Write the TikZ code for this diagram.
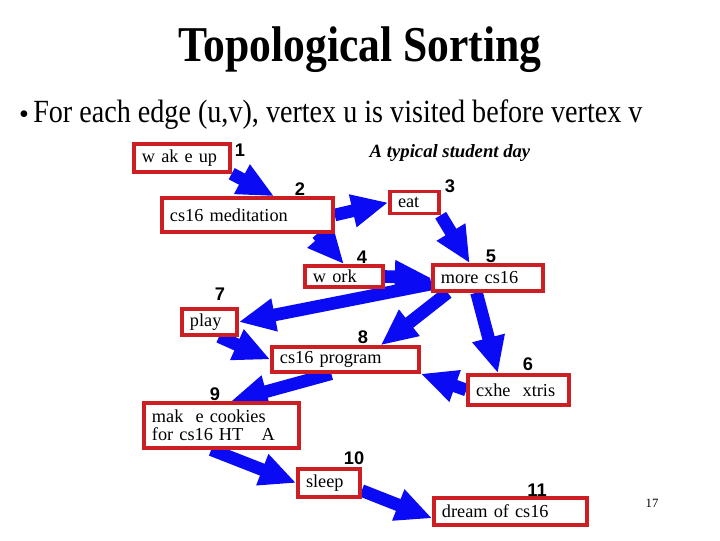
\documentclass[tikz,border=0pt]{standalone}
\usepackage{fontspec}
\setmainfont{Liberation Serif}
\newfontfamily\numfont{Liberation Sans}
\usetikzlibrary{arrows.meta,backgrounds}
\definecolor{boxred}{RGB}{205,30,35}
\definecolor{flowblue}{RGB}{10,10,245}

\begin{document}
\begin{tikzpicture}[
    x=0.025cm, y=-0.025cm,
    box/.style={rectangle, draw=boxred, line width=2.4pt, fill=white, align=left, inner xsep=0.2cm, inner ysep=1pt, minimum height=0.65cm, font=\fontsize{13}{13}\selectfont},
    num/.style={inner sep=0pt, font=\numfont\bfseries\fontsize{13}{13}\selectfont},
    flow/.style={draw=flowblue, line width=9pt, -{Triangle[length=26pt, width=22pt]}}
]
\useasboundingbox (0,0) rectangle (720,540);

% Heading
\node (title) at (360,50) {\fontsize{31}{31}\selectfont\bfseries\scalebox{1}[1.15]{Topological Sorting}};
\node (dot) at (24,117) {\fontsize{20}{20}\selectfont\textbullet};
\node[anchor=base west, inner sep=0pt] (rule) at (33,122) {\fontsize{20}{20}\selectfont\scalebox{1}[1.15]{For each edge (u,v), vertex u is visited before vertex v}};
\node (day) at (450,153) {\fontsize{13.3}{14}\selectfont\bfseries\itshape A typical student day};
\node (page) at (652,503) {\fontsize{9}{9}\selectfont 17};

% Nodes
\node[box, text width=2.0cm, minimum height=0.7cm] (wake) at (182,158) {w ak e up};
\node[box, text width=3.875cm, minimum height=0.85cm] (med) at (247.5,215) {cs16 meditation};
\node[box, text width=0.825cm, minimum height=0.55cm] (eat) at (414.5,202.5) {eat};
\node[box, text width=1.55cm, minimum height=0.53cm] (work) at (344,276.5) {w ork};
\node[box, text width=2.35cm] (more) at (488,278) {more cs16};
\node[box, text width=0.975cm] (play) at (209.5,322) {play};
\node[box, text width=3.275cm, minimum height=0.625cm] (prog) at (345.5,359.5) {cs16 program};
\node[box, text width=2.125cm, minimum height=0.75cm] (xtris) at (518.5,390) {cxhe\ \ xtris};
\node[box, text width=3.475cm, minimum height=1.125cm] (cookies) at (221.5,425.5) {mak\ \ e cookies\\for cs16 HT\quad A};
\node[box, text width=1.15cm, minimum height=0.7cm] (sleep) at (329,483) {sleep};
\node[box, text width=3.425cm, minimum height=0.675cm] (dream) at (510.5,511.5) {dream of cs16};

% Order numbers
\node[num] (n1) at (240,150) {1};
\node[num] (n2) at (300,189) {2};
\node[num] (n3) at (450,186) {3};
\node[num] (n4) at (362,257) {4};
\node[num] (n5) at (491,256) {5};
\node[num] (n6) at (528,364) {6};
\node[num] (n7) at (220,294) {7};
\node[num] (n8) at (363,337) {8};
\node[num] (n9) at (215,394) {9};
\node[num] (n10) at (354,458) {10};
\node[num] (n11) at (537,490) {11};

% Arrows
\begin{pgfonlayer}{background}
\draw[flow] (wake.south east) -- (med.35);
\draw[flow] (med.east) -- (eat.west);
\draw[flow] (med.-15) -- (work.north);
\draw[flow] (eat.south east) -- (more.141);
\draw[flow] (work.east) -- (more.west);
\draw[flow] (more.186) -- (play.east);
\draw[flow] (more.200) -- (prog.22);
\draw[flow] (more.232) -- (xtris.141);
\draw[flow] (play.-57) -- (prog.west);
\draw[flow] (xtris.west) -- (prog.south east);
\draw[flow] (prog.225) -- (cookies.69);
\draw[flow] (cookies.247) -- (sleep.west);
\draw[flow] (sleep.-13) -- (dream.185);
\end{pgfonlayer}

\end{tikzpicture}
\end{document}
